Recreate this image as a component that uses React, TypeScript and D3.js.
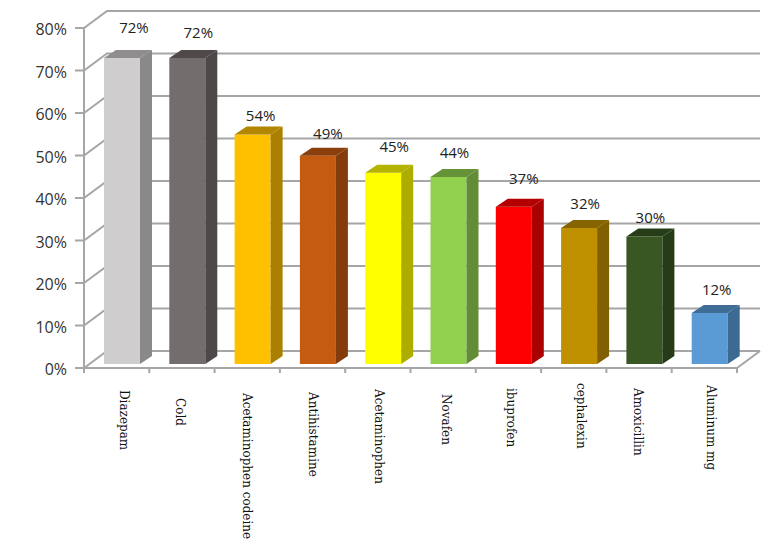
import { useEffect, useRef } from "react";
import * as d3 from "d3";

const drugs = [
  "Diazepam",
  "Cold",
  "Acetaminophen codeine",
  "Antihistamine",
  "Acetaminophen",
  "Novafen",
  "ibuprofen",
  "cephalexin",
  "Amoxicillin",
  "Aluminum mg",
];
const percents = [72, 72, 54, 49, 45, 44, 37, 32, 30, 12];
const frontColors = ["#cfcdce", "#736e6d", "#ffc000", "#c55a11", "#ffff00", "#92d050", "#ff0000", "#bf9000", "#385723", "#5b9bd5"];
const topColors = ["#8f8d8d", "#4f4a49", "#b38600", "#8a3f0c", "#b3b300", "#66923a", "#b30000", "#866500", "#273d18", "#3f6d96"];
const sideColors = ["#8a8888", "#4d4948", "#ab8000", "#843c0c", "#adad00", "#628c36", "#ab0000", "#806000", "#263b17", "#3c6a92"];
const yTicks = [0, 10, 20, 30, 40, 50, 60, 70, 80];

const width = 768;
const height = 551;
const depth = { x: 23, y: -17 };
const barDepth = { x: 12, y: -8 };

// the labels were nudged by hand in the original
const valueNudgeX = [2, 1, -2, 0, 1, -4, 0, -4, -4, -3];
const valueNudgeY = [-11, -6, 0, -3, -7, -5, -9, -5, 0, -4];
const nameNudgeX = [0, -9, -8, -7, -6, -5, -5, 0, -8, -1];
const nameStartY = [390, 398, 393, 392, 389, 394, 388, 383, 388, 385];

export default function App() {
  const svgRef = useRef<SVGSVGElement | null>(null);

  useEffect(() => {
    const svg = d3.select(svgRef.current);
    svg.selectAll("*").remove();

    const x = d3.scaleBand().domain(drugs).range([84, 737]).paddingInner(0).paddingOuter(0);
    const y = d3.scaleLinear().domain([0, 80]).range([368, 28]);
    const barHeight = (v: number) => y(0) - y(v);
    const gridColor = "#a6a6a6";

    // back wall + side wall gridlines
    const grid = svg.append("g").attr("stroke", gridColor).attr("stroke-width", 2).attr("fill", "none");
    yTicks.forEach((t) => {
      grid
        .append("path")
        .attr(
          "d",
          d3.line()([
            [x.range()[0] - 9, y(t)],
            [x.range()[0], y(t)],
            [x.range()[0] + depth.x, y(t) + depth.y],
            [x.range()[1] + depth.x, y(t) + depth.y],
          ])
        );
    });
    grid.append("line").attr("x1", 84).attr("x2", 84).attr("y1", y(0)).attr("y2", y(80));
    grid
      .append("path")
      .attr("d", d3.line()([[84, y(0)], [737, y(0)], [737 + depth.x, y(0) + depth.y]]));
    drugs.forEach((d) => {
      const tx = x(d)!;
      grid.append("line").attr("x1", tx).attr("x2", tx).attr("y1", y(0)).attr("y2", y(0) + 5);
    });
    grid.append("line").attr("x1", 737).attr("x2", 737).attr("y1", y(0)).attr("y2", y(0) + 5);

    // y labels
    svg
      .append("g")
      .selectAll("text")
      .data(yTicks)
      .enter()
      .append("text")
      .attr("x", 67)
      .attr("y", (t) => y(t) + 7)
      .attr("text-anchor", "end")
      .attr("font-family", "'Open Sans', sans-serif")
      .attr("font-size", 16)
      .attr("fill", "#333333")
      .text((t) => `${t}%`);

    // bars
    const barOffset = 20;
    const barW = 36;
    const base = y(0) - 4;
    const bars = svg.append("g").selectAll("g").data(drugs).enter().append("g");
    const left = (d: string) => x(d)! + barOffset;
    const top = (i: number) => base - barHeight(percents[i]);

    bars
      .append("rect")
      .attr("x", (d) => left(d))
      .attr("y", (_, i) => top(i))
      .attr("width", barW)
      .attr("height", (_, i) => barHeight(percents[i]))
      .attr("fill", (_, i) => frontColors[i]);
    bars
      .append("path")
      .attr("fill", (_, i) => sideColors[i])
      .attr("d", (d, i) =>
        d3.line()([
          [left(d) + barW, top(i)],
          [left(d) + barW + barDepth.x, top(i) + barDepth.y],
          [left(d) + barW + barDepth.x, base + barDepth.y],
          [left(d) + barW, base],
        ])
      );
    bars
      .append("path")
      .attr("fill", (_, i) => topColors[i])
      .attr("d", (d, i) =>
        d3.line()([
          [left(d), top(i)],
          [left(d) + barDepth.x, top(i) + barDepth.y],
          [left(d) + barW + barDepth.x, top(i) + barDepth.y],
          [left(d) + barW, top(i)],
        ])
      );
    bars
      .append("text")
      .attr("x", (d, i) => left(d) + barW / 2 + 10 + valueNudgeX[i])
      .attr("y", (_, i) => top(i) - 14 + valueNudgeY[i])
      .attr("text-anchor", "middle")
      .attr("font-family", "'Open Sans', sans-serif")
      .attr("font-size", 15)
      .attr("fill", "#222222")
      .text((_, i) => `${percents[i]}%`);

    // rotated category labels
    svg
      .append("g")
      .selectAll("text")
      .data(drugs)
      .enter()
      .append("text")
      .attr("transform", (d, i) => `translate(${x(d)! + 36 + nameNudgeX[i]},${nameStartY[i]}) rotate(90)`)
      .attr("font-family", "'DejaVu Serif', serif")
      .attr("font-size", 12)
      .attr("fill", "#111111")
      .text((d) => d);
  }, []);

  return (
    <svg
      ref={svgRef}
      width={width}
      height={height}
      style={{ position: "absolute", left: 0, top: 0, background: "#fff" }}
    />
  );
}
